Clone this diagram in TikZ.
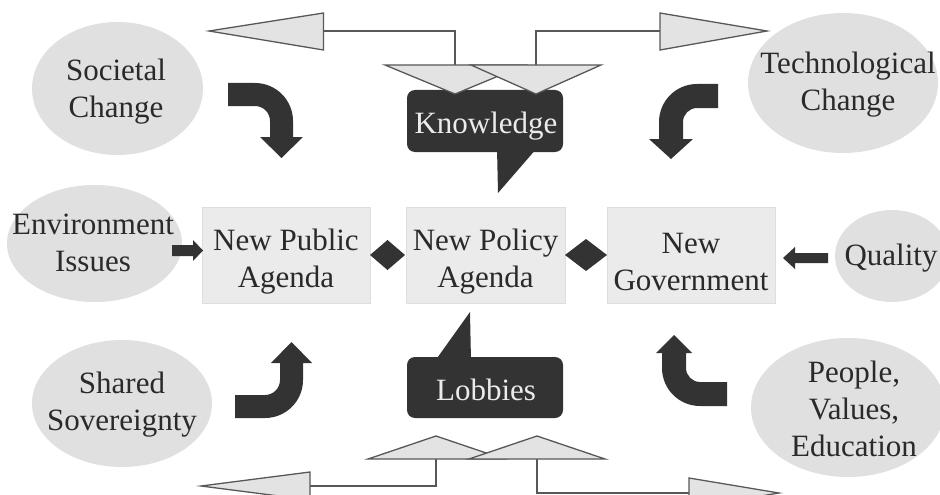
\documentclass[tikz,border=0pt]{standalone}
\usepackage{fontspec}
\setmainfont{Liberation Serif}
\usetikzlibrary{shapes.geometric}
\definecolor{ellfill}{HTML}{E0E0E0}
\definecolor{boxfill}{HTML}{EBEBEB}
\definecolor{boxline}{HTML}{DEDEDE}
\definecolor{dark}{HTML}{333333}
\definecolor{txtc}{HTML}{2A2A2A}
\definecolor{linec}{HTML}{585858}
\definecolor{trifill}{HTML}{E3E3E3}
\tikzset{
  bigtxt/.style={font=\fontsize{31}{37}\selectfont, text=txtc, align=center, inner sep=0pt},
  ellnode/.style={ellipse, fill=ellfill, inner sep=0pt},
  boxnode/.style={rectangle, fill=boxfill, draw=boxline, line width=0.8pt, inner sep=0pt},
  callout/.style={rectangle, rounded corners=8pt, fill=dark, inner sep=0pt},
  calltxt/.style={font=\fontsize{31}{37}\selectfont, text=white!92!black, inner sep=0pt},
  blockarrow/.style={fill=dark},
  tri/.style={fill=trifill, draw=linec, line width=1.3pt, line join=miter},
  conn/.style={draw=linec, line width=1.3pt}
}
\begin{document}
\begin{tikzpicture}[x=1pt,y=-1pt]
\useasboundingbox[fill=white] (0,0) rectangle (940,495);

% ellipses
\node[ellnode, minimum width=171pt, minimum height=133pt] (soc) at (117.5,88.5) {};
\node[ellnode, minimum width=190pt, minimum height=140pt] (tech) at (843,83) {};
\node[ellnode, minimum width=175pt, minimum height=117pt] (env) at (94.5,243.5) {};
\node[ellnode, minimum width=114pt, minimum height=92pt] (qual) at (892,256) {};
\node[ellnode, minimum width=180pt, minimum height=127pt] (shar) at (122,403.5) {};
\node[ellnode, minimum width=194pt, minimum height=139pt] (peop) at (848,407.5) {};

\node[bigtxt] (soct) at (116,91.5) {Societal\\Change};
\node[bigtxt] (techt) at (848,84.5) {Technological\\Change};
\node[bigtxt] (envt) at (93,243) {Environment\\Issues};
\node[bigtxt] (qualt) at (891,258) {Quality};
\node[bigtxt] (shart) at (122,405) {Shared\\Sovereignty};
\node[bigtxt] (peopt) at (854,409) {People,\\Values,\\Education};

% central boxes
\node[boxnode, minimum width=168pt, minimum height=96pt] (npa) at (286,255) {};
\node[boxnode, minimum width=159pt, minimum height=96pt] (npol) at (485.5,255) {};
\node[boxnode, minimum width=168pt, minimum height=96pt] (ngov) at (691,255) {};
\node[bigtxt] (npat) at (286,262) {New Public\\Agenda};
\node[bigtxt] (npolt) at (485.5,262) {New Policy\\Agenda};
\node[bigtxt] (ngovt) at (691,262) {New\\Government};

% diamonds
\fill[dark] (370,255) -- (387.5,240) -- (405,255) -- (387.5,270) -- cycle;
\fill[dark] (565,255) -- (586,239) -- (607,255) -- (586,271) -- cycle;

% callouts
\node[callout, minimum width=156pt, minimum height=62pt] (know) at (485,121) {};
\fill[dark] (497,148) -- (537,148) -- (498,193) -- cycle;
\node[calltxt] (knowt) at (486,126) {Knowledge};
\node[callout, minimum width=156pt, minimum height=61pt] (lobb) at (485,387.5) {};
\fill[dark] (435,361) -- (471,361) -- (470,312) -- cycle;
\node[calltxt] (lobbt) at (486,389.5) {Lobbies};

% bent block arrows
\fill[blockarrow] (228,83) -- (255,83) .. controls (276,83) and (293,100) .. (293,121)
  -- (293,137) -- (303,137) -- (281.5,158) -- (260,137) -- (270,137) -- (270,121)
  .. controls (270,112.7) and (263.3,106) .. (255,106) -- (228,106) -- cycle;
\fill[blockarrow] (718,84) -- (697,84) .. controls (676,84) and (659,101) .. (659,122)
  -- (659,139) -- (649,139) -- (671,159) -- (693,139) -- (683,139) -- (683,122)
  .. controls (683,114.3) and (689.3,108) .. (697,108) -- (718,108) -- cycle;
\fill[blockarrow] (235,418) -- (265,418) .. controls (286,418) and (303,401) .. (303,380)
  -- (303,363) -- (312,363) -- (291.5,342) -- (271,363) -- (280,363) -- (280,380)
  .. controls (280,388.3) and (273.3,395) .. (265,395) -- (235,395) -- cycle;
\fill[blockarrow] (727,406) -- (700,406) .. controls (679,406) and (662,389) .. (662,368)
  -- (662,353) -- (656,353) -- (674,335) -- (692,353) -- (686,353) -- (686,368)
  .. controls (686,375.7) and (692.3,382) .. (700,382) -- (727,382) -- cycle;

% straight block arrows
\fill[blockarrow] (172,245) -- (193,245) -- (193,240) -- (203,250.5) -- (193,261) -- (193,256) -- (172,256) -- cycle;
\fill[blockarrow] (828,253) -- (795,253) -- (795,247) -- (783,258) -- (795,269) -- (795,263) -- (828,263) -- cycle;

% top connector system
\coordinate (tA) at (455,65);
\coordinate (tB) at (536,65);
\draw[conn] (323.5,31) -- (455,31) -- (tA);
\draw[conn] (tB) -- (536,31) -- (660,31);
\draw[tri] (323.5,13) -- (209,31) -- (323.5,50) -- cycle;
\draw[tri] (660,13) -- (767,31) -- (660,50) -- cycle;
\draw[tri] (385,65) -- (525,65) -- (455,94) -- cycle;
\draw[tri] (471,65) -- (601,65) -- (536,94) -- cycle;

% bottom connector system
\coordinate (bA) at (436,459);
\coordinate (bB) at (537,459);
\draw[conn] (bA) -- (436,486) -- (310,486);
\draw[conn] (bB) -- (537,493) -- (689,493);
\draw[tri] (310,472) -- (201,486) -- (310,500) -- cycle;
\draw[tri] (689,478) -- (779,493) -- (689,508) -- cycle;
\draw[tri] (368,459) -- (504,459) -- (436,436) -- cycle;
\draw[tri] (469,459) -- (605,459) -- (537,436) -- cycle;
\end{tikzpicture}
\end{document}
